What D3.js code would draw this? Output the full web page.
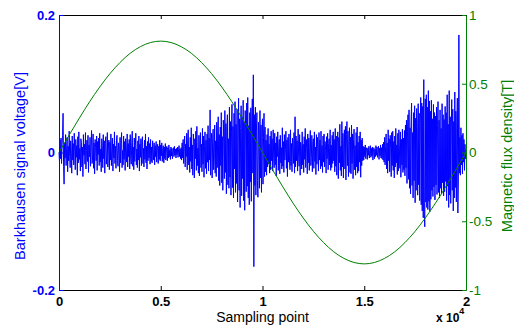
<!DOCTYPE html>
<html>
<head>
<meta charset="utf-8">
<script src="https://cdn.jsdelivr.net/npm/d3@7"></script>
<style>
  html, body { margin: 0; padding: 0; background: #fff; }
  svg { display: block; font-family: "Liberation Sans", Arial, Helvetica, sans-serif; }
</style>
</head>
<body>
<div id="chart"></div>
<script>
// Barkhausen signal, one value every 25 sampling points, in mV
const sampleStep = 25;
const barkhausenMv = [
  0, -14, 18, -9, 21, -16, 11, 25, 57, -20, -46, 14, -8, 26, -19, 5, 22, -28, 9, -12,
  31, -6, -22, 17, 4, -30, 24, -11, 13, -18, 28, 2, -25, 19, -7, 10, -33, 23, -15, 30,
  -10, 6, -27, 20, 15, -21, 8, -35, 26, -4, 12, -17, 29, -24, 3, 18, -13, 25, -29, 11,
  -6, 22, -20, 9, 32, -16, -8, 27, -23, 14, -31, 19, 7, -12, 24, -26, 16, -3, 21, -19,
  28, -14, 5, -28, 20, 10, -22, 26, -9, 17, -30, 13, 23, -17, -5, 29, -21, 8, 18, -25,
  15, -11, 27, -19, 4, 21, -27, 12, -8, 30, -16, 9, -23, 18, 25, -12, -20, 14, 6, -28,
  22, -15, 11, 29, -22, 3, -18, 24, -10, 16, -26, 20, 7, -14, 27, -21, 13, -6, 19, -24,
  26, -9, -17, 15, 31, -20, 8, -25, 21, -13, 10, 28, -18, 5, -22, 17, -11, 24, -27, 12,
  -7, 20, -19, 14, 23, -16, 6, -21, 18, -10, 27, -15, 9, -24, 16, -12, 22, -8, 13, -17,
  19, -13, 8, -15, 17, 4, -11, 14, -18, 10, -6, 16, -14, 7, 12, -16, 9, -10, 18, -12,
  11, -5, 14, -13, 6, 10, -15, 8, -9, 13, -11, 5, 9, -12, 7, -8, 11, -6, 4, -10,
  8, -5, 6, -9, 3, 7, -6, 9, -4, 5, -8, 6, -3, 8, -7, 4, 10, -6, 5, -9,
  7, -11, 14, -8, 19, -16, 9, 24, -21, 12, -6, 28, -25, 17, 33, -18, 8, -29, 22, -13,
  36, -24, 11, -33, 27, 15, -37, 20, -9, 31, -26, 38, -19, 6, -30, 25, -34, 16, 29, -22,
  12, -28, 35, -17, 24, -36, 9, 30, -23, 18, -31, 27, -14, 39, -27, 21, -11, 62, -33, 15,
  28, -37, 20, 34, -25, -8, 40, -30, 17, -35, 44, -22, 31, 52, -41, 26, -48, 37, -19, 58,
  -44, 23, -55, 47, 16, -38, 61, -29, 42, -60, 34, 55, -47, 20, -52, 66, -36, 45, -62, 30,
  70, -51, 38, -66, 57, -24, 74, -58, 41, -45, 63, -72, 28, 79, -55, 49, -80, 35, 68, -63,
  52, -38, 76, -70, 44, -84, 61, 33, -57, 72, -49, 80, -66, 39, -76, 58, -43, 65, -71, 47,
  78, -30, 113, -166, 55, -48, 66, -62, 30, 58, -41, -65, 44, 25, -52, 61, -37, 40, -58, 33,
  49, -46, 22, 57, -35, 37, -28, 18, -33, 26, -21, 35, -17, 12, -30, 24, -25, 31, -12, 20,
  -27, 33, -9, -22, 28, -18, 14, -34, 23, -6, 30, -26, 10, 19, -31, 25, -15, 7, -24, 36,
  -20, 16, -29, 26, -11, 4, 31, -23, 18, -35, 22, -14, 27, -8, -25, 33, -19, 13, -28, 21,
  9, -16, 29, -30, 52, -21, 24, -12, 17, -27, 34, -5, -20, 26, -33, 15, 8, -24, 30, -18,
  12, -29, 23, -10, 35, -22, 6, 19, -31, 27, -15, 21, -26, 11, 32, -19, -7, 25, -28, 14,
  20, -23, 30, -13, 8, -32, 26, -17, 22, 5, -27, 29, -11, 18, -24, 31, -20, 10, -29, 24,
  -14, 27, -21, 16, 3, -30, 23, -9, 28, -25, 13, 20, -18, 33, -26, 11, -22, 25, -16, 30,
  -12, 19, -28, 35, -20, 24, -33, 14, 30, -38, 22, -15, 41, -26, 9, -34, 45, -21, 28, -37,
  17, 33, -24, 38, -40, 26, 45, -19, 31, -35, 12, 36, -29, 22, -31, 40, -16, 27, -38, 19,
  34, -25, 10, -33, 29, -21, 37, -30, 15, -27, 24, -14, 30, -36, 18, -19, 21, -12, 9, -11,
  8, -6, 11, -9, 5, 7, -10, 6, -4, 9, -8, 3, 10, -7, 6, -5, 8, -11, 4, 7,
  -9, 5, -6, 10, -4, 8, -7, 3, 9, -10, 6, -5, 11, -8, 7, -9, 12, -11, 15, -14,
  22, -18, 9, 27, -24, 14, -30, 33, -12, 20, -28, 25, 6, -35, 29, -19, 31, -26, 16, -37,
  24, -21, 35, -15, 11, -32, 28, -27, 33, 8, -23, 30, -36, 19, -18, 34, -29, 21, -25, 32,
  -34, 40, -22, 47, -45, 31, 55, -39, 62, -52, 36, -60, 44, 72, -48, 29, -66, 58, -41, 68,
  -73, 50, -55, 64, 38, -62, 71, -47, 57, -70, 42, 80, -76, 72, -85, 67, -95, 106, -88, -108,
  78, -72, 84, -80, 66, -83, 90, -71, 75, -86, 60, -68, 76, -55, 49, -64, 70, -50, 58, -69,
  53, -47, 66, -61, 39, 74, -58, 47, -66, 62, -52, 35, -60, 71, -44, 55, -63, 48, -57, 67,
  -42, 58, -70, 84, -49, 41, -80, 90, -62, 52, -74, 37, 77, -55, 63, -85, 45, -66, 88, -51,
  60, -72, 43, 79, -88, -40, 171, -30, 22, -33, 36, -18, 25, -31, 28, -14, 19, -26, 12, -9,
  4
];

// magnetic flux density, one value every 500 sampling points, in T
const fluxStep = 500;
const fluxT = [
  0, 0.127, 0.250, 0.368, 0.476, 0.573, 0.655, 0.722, 0.770, 0.800,
  0.810, 0.800, 0.770, 0.722, 0.655, 0.573, 0.476, 0.368, 0.250, 0.127,
  0, -0.127, -0.250, -0.368, -0.476, -0.573, -0.655, -0.722, -0.770, -0.800,
  -0.810, -0.800, -0.770, -0.722, -0.655, -0.573, -0.476, -0.368, -0.250, -0.127,
  0
];

const xTicks = [0, 5000, 10000, 15000, 20000];
const xTickLabels = ['0', '0.5', '1', '1.5', '2'];
const leftTicks = [-0.2, 0, 0.2];
const leftTickLabels = ['-0.2', '0', '0.2'];
const rightTicks = [-1, -0.5, 0, 0.5, 1];
const rightTickLabels = ['-1', '-0.5', '0', '0.5', '1'];

const width = 514, height = 325;
const margin = { top: 15, right: 48, bottom: 35, left: 59 };
const plotW = width - margin.left - margin.right;
const plotH = height - margin.top - margin.bottom;

const svg = d3.select('#chart').append('svg')
  .attr('width', width)
  .attr('height', height);

const g = svg.append('g')
  .attr('transform', 'translate(' + margin.left + ',' + margin.top + ')');

const x = d3.scaleLinear().domain([0, 20000]).range([0, plotW]);
const yLeft = d3.scaleLinear().domain([-0.2, 0.2]).range([plotH, 0]);
const yRight = d3.scaleLinear().domain([-1, 1]).range([plotH, 0]);

// signal first, flux curve drawn on top
const signalLine = d3.line()
  .x((d, i) => x(i * sampleStep))
  .y(d => yLeft(d / 1000));

g.append('path')
  .datum(barkhausenMv)
  .attr('d', signalLine)
  .attr('fill', 'none')
  .attr('stroke', '#0000ff')
  .attr('stroke-width', 1);

const fluxLine = d3.line()
  .x((d, i) => x(i * fluxStep))
  .y(d => yRight(d))
  .curve(d3.curveNatural);

g.append('path')
  .datum(fluxT)
  .attr('d', fluxLine)
  .attr('fill', 'none')
  .attr('stroke', '#008000')
  .attr('stroke-width', 1);

// top box line with mirrored ticks
g.append('g')
  .call(d3.axisTop(x).tickValues(xTicks).tickSizeInner(-4).tickSizeOuter(0).tickFormat(''))
  .call(a => a.selectAll('line, path').attr('stroke', '#000'));

// bottom axis
g.append('g')
  .attr('transform', 'translate(0,' + plotH + ')')
  .call(d3.axisBottom(x)
    .tickValues(xTicks)
    .tickSizeInner(-4)
    .tickSizeOuter(0)
    .tickPadding(7)
    .tickFormat((d, i) => xTickLabels[i]))
  .call(a => {
    a.selectAll('line, path').attr('stroke', '#000');
    a.selectAll('text')
      .attr('fill', '#000')
      .attr('font-size', 13)
      .attr('font-weight', 'bold');
  });

// left axis (signal)
g.append('g')
  .call(d3.axisLeft(yLeft)
    .tickValues(leftTicks)
    .tickSizeInner(-4)
    .tickSizeOuter(0)
    .tickPadding(4)
    .tickFormat((d, i) => leftTickLabels[i]))
  .call(a => {
    a.selectAll('line, path').attr('stroke', '#0000ff');
    a.selectAll('text')
      .attr('fill', '#0000ff')
      .attr('font-size', 13)
      .attr('font-weight', 'bold');
  });

// right axis (flux)
g.append('g')
  .attr('transform', 'translate(' + plotW + ',0)')
  .call(d3.axisRight(yRight)
    .tickValues(rightTicks)
    .tickSizeInner(-4)
    .tickSizeOuter(0)
    .tickPadding(3)
    .tickFormat((d, i) => rightTickLabels[i]))
  .call(a => {
    a.selectAll('line, path').attr('stroke', '#008000');
    a.selectAll('text')
      .attr('fill', '#008000')
      .attr('font-size', 13.5);
  });

// axis titles
svg.append('text')
  .attr('x', margin.left + plotW / 2)
  .attr('y', 322)
  .attr('text-anchor', 'middle')
  .attr('font-size', 14)
  .attr('fill', '#000')
  .text('Sampling point');

svg.append('text')
  .attr('transform', 'translate(25,166) rotate(-90)')
  .attr('text-anchor', 'middle')
  .attr('font-size', 14.5)
  .attr('fill', '#0000ff')
  .text('Barkhausen signal voltage[V]');

svg.append('text')
  .attr('transform', 'translate(512,156) rotate(-90)')
  .attr('text-anchor', 'middle')
  .attr('font-size', 14.5)
  .attr('fill', '#008000')
  .text('Magnetic flux density[T]');

// x 10^4 exponent label
const expo = svg.append('text')
  .attr('x', 436)
  .attr('y', 322)
  .attr('font-size', 12)
  .attr('font-weight', 'bold')
  .attr('fill', '#000');
expo.append('tspan').text('x 10');
expo.append('tspan').attr('font-size', 9).attr('dy', -8).text('4');
</script>
</body>
</html>
